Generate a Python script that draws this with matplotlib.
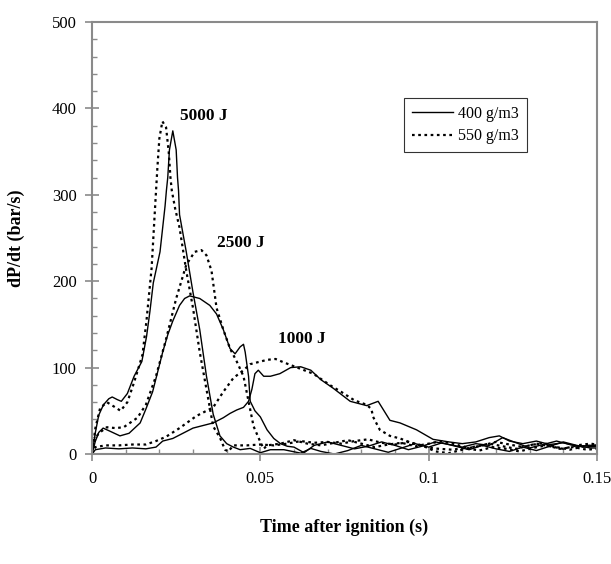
import matplotlib
matplotlib.use('Agg')
from matplotlib import pyplot as plt
from matplotlib.ticker import MultipleLocator

plt.rcParams['font.family'] = ['Liberation Serif', 'DejaVu Serif']

# 5000 J
t_5000_400 = [0, 0.001, 0.002, 0.0034, 0.005, 0.006, 0.0075, 0.0087, 0.0105, 0.0125, 0.0148,
              0.0162, 0.0172, 0.0182, 0.0202, 0.0217, 0.0221, 0.0225, 0.023, 0.024, 0.025, 0.0254,
              0.0257, 0.026, 0.028, 0.030, 0.032, 0.034, 0.036, 0.038, 0.040, 0.042, 0.044, 0.047,
              0.050, 0.053, 0.057, 0.062, 0.065, 0.068, 0.072, 0.076, 0.08, 0.084, 0.088, 0.092,
              0.096, 0.10, 0.104, 0.108, 0.112, 0.116, 0.12, 0.124, 0.128, 0.132, 0.136, 0.14,
              0.144, 0.148, 0.15]
p_5000_400 = [0, 25, 45, 57, 64, 66, 63, 61, 70, 90, 107,
              136, 165, 198, 234, 287, 305, 320, 352, 374, 352, 320,
              305, 277, 234, 187, 144, 90, 46, 21, 12, 8, 5, 6.5,
              1.5, 5, 5, 1, 6.5, 3, 0, 4, 10, 6, 2, 7,
              12, 8, 13, 9, 5, 10, 6, 3, 8, 4, 9, 14,
              10, 7, 7]
t_5000_550 = [0, 0.001, 0.0024, 0.0044, 0.0065, 0.0085, 0.0105, 0.0125, 0.015, 0.0162, 0.0177,
              0.0188, 0.0194, 0.0200, 0.0209, 0.022, 0.0228, 0.0233, 0.0237, 0.0247, 0.026, 0.028,
              0.030, 0.032, 0.034, 0.036, 0.038, 0.0395, 0.0405, 0.042, 0.046, 0.05, 0.054, 0.058,
              0.062, 0.066, 0.07, 0.074, 0.078, 0.082, 0.086, 0.09, 0.094, 0.098, 0.102, 0.106,
              0.11, 0.114, 0.118, 0.122, 0.126, 0.13, 0.134, 0.138, 0.142, 0.146, 0.15]
p_5000_550 = [0, 30, 53, 60, 55, 50, 60, 83, 115, 155, 215,
              290, 330, 365, 385, 378, 349, 320, 305, 284, 262, 212,
              169, 118, 75, 32, 19, 5, 3, 10, 10, 11, 10, 12,
              15, 13, 14, 12, 15, 17, 13, 11, 14, 10, 3, 1,
              5, 9, 12, 9, 6, 10, 13, 8, 5, 9, 10]

# 2500 J
t_2500_400 = [0, 0.001, 0.002, 0.0033, 0.005, 0.0083, 0.011, 0.0143, 0.016, 0.018, 0.0195,
              0.021, 0.0225, 0.024, 0.026, 0.0275, 0.029, 0.032, 0.035, 0.037, 0.039, 0.041,
              0.0425, 0.044, 0.045, 0.0455, 0.0465, 0.047, 0.0484, 0.050, 0.052, 0.054, 0.056,
              0.058, 0.060, 0.063, 0.066, 0.07, 0.074, 0.078, 0.082, 0.086, 0.09, 0.094, 0.098,
              0.102, 0.106, 0.11, 0.114, 0.118, 0.122, 0.126, 0.13, 0.134, 0.138, 0.142, 0.146,
              0.15]
p_2500_400 = [0, 15, 25, 30, 27, 21, 24, 36, 52, 72, 95,
              118, 138, 154, 172, 180, 183, 180, 172, 162, 144, 122,
              116, 124, 127, 118, 90, 61, 50, 43, 28, 18, 12,
              9, 8, 1.5, 10, 14, 10, 6, 9, 14, 10, 5, 9,
              14, 11, 8, 12, 10, 19, 13, 7, 11, 15, 11, 8,
              9]
t_2500_550 = [0, 0.001, 0.002, 0.0044, 0.007, 0.0094, 0.0135, 0.016, 0.019, 0.022, 0.025,
              0.028, 0.0305, 0.0325, 0.034, 0.0355, 0.037, 0.039, 0.041, 0.043, 0.045, 0.0465,
              0.048, 0.050, 0.051, 0.052, 0.056, 0.060, 0.064, 0.068, 0.072, 0.076, 0.08, 0.084,
              0.088, 0.092, 0.096, 0.1, 0.104, 0.108, 0.112, 0.116, 0.12, 0.124, 0.128, 0.132,
              0.136, 0.14, 0.144, 0.148, 0.15]
p_2500_550 = [0, 18, 24, 31, 30, 31, 42, 57, 90, 133, 180,
              219, 234, 236, 230, 212, 169, 144, 122, 107, 90, 61,
              32, 14, 6, 10, 12, 16, 12, 10, 13, 16, 12, 8,
              11, 13, 9, 12, 15, 11, 7, 10, 14, 11, 8, 12,
              9, 6, 10, 12, 11]

# 1000 J
t_1000_400 = [0, 0.001, 0.004, 0.008, 0.012, 0.016, 0.019, 0.021, 0.024, 0.027, 0.030,
              0.033, 0.036, 0.039, 0.041, 0.043, 0.045, 0.0465, 0.0475, 0.0484, 0.0494, 0.051,
              0.053, 0.0558, 0.059, 0.062, 0.065, 0.068, 0.0717, 0.0767, 0.0816, 0.085, 0.0885,
              0.0915, 0.0964, 0.1013, 0.106, 0.11, 0.114, 0.118, 0.121, 0.124, 0.128, 0.132,
              0.136, 0.14, 0.144, 0.148, 0.15]
p_1000_400 = [0, 5, 7, 6, 7, 6, 8, 15, 18, 24, 30,
              33, 36, 42, 47, 51, 54, 61, 75, 93, 97, 90,
              90, 93, 100, 101, 97, 86, 76, 61, 56, 61, 39,
              36, 28, 17, 14, 12, 14, 19, 21, 15, 12, 15,
              11, 13, 9, 10, 10]
t_1000_550 = [0, 0.001, 0.004, 0.008, 0.012, 0.016, 0.019, 0.022, 0.026, 0.031, 0.036,
              0.039, 0.042, 0.045, 0.047, 0.049, 0.052, 0.0545, 0.057, 0.061, 0.0657, 0.071,
              0.074, 0.078, 0.0816, 0.083, 0.0835, 0.0855, 0.0885, 0.0915, 0.0955, 0.1014, 0.107,
              0.111, 0.115, 0.119, 0.123, 0.127, 0.131, 0.135, 0.139, 0.143, 0.147, 0.15]
p_1000_550 = [0, 8, 10, 10, 11, 11, 15, 20, 30, 44, 54,
              72, 88, 97, 104, 106, 109, 110, 106, 100, 93, 79,
              72, 62, 57, 52, 43, 28, 21, 18, 12, 6.5, 5,
              7, 4, 8, 6, 3, 7, 10, 6, 8, 5, 6]

curves_400 = [(t_5000_400, p_5000_400), (t_2500_400, p_2500_400), (t_1000_400, p_1000_400)]
curves_550 = [(t_5000_550, p_5000_550), (t_2500_550, p_2500_550), (t_1000_550, p_1000_550)]

energy_labels = ['5000 J', '2500 J', '1000 J']
label_pos = [(0.0261, 391), (0.0370, 244), (0.0553, 133)]

fig = plt.figure(figsize=(6.11, 5.64), dpi=100)
ax = fig.add_subplot(111)
fig.subplots_adjust(left=0.1506, right=0.977, top=0.961, bottom=0.195)

dots = (0, (1.2, 1.6))
for i, (t, p) in enumerate(curves_400):
    ax.plot(t, p, color='black', lw=1.0, label='400 g/m3' if i == 0 else None)
for i, (t, p) in enumerate(curves_550):
    ax.plot(t, p, color='black', lw=1.6, linestyle=dots, label='550 g/m3' if i == 0 else None)

for txt, (x, y) in zip(energy_labels, label_pos):
    ax.text(x, y, txt, fontsize=12.5, fontweight='bold', ha='left', va='center')

ax.set_xlim(0, 0.15)
ax.set_ylim(0, 500)
ax.xaxis.set_minor_locator(MultipleLocator(0.01))
ax.yaxis.set_major_locator(MultipleLocator(100))
ax.yaxis.set_minor_locator(MultipleLocator(20))
ax.set_xticks([0, 0.05, 0.1, 0.15])
ax.set_xticklabels(['0', '0.05', '0.1', '0.15'])

grey = '#8a8a8a'
for s in ax.spines.values():
    s.set_color(grey)
    s.set_linewidth(1.5)
ax.tick_params(which='major', direction='inout', length=10, width=1.2, color=grey,
               labelsize=12)
ax.tick_params(which='minor', direction='in', length=3.5, width=1.0, color=grey)
ax.tick_params(axis='x', which='major', pad=7)
ax.tick_params(axis='y', which='major', pad=6)

ax.set_xlabel('Time after ignition (s)', fontsize=13, fontweight='bold')
ax.set_ylabel('dP/dt (bar/s)', fontsize=13, fontweight='bold')
ax.xaxis.set_label_coords(0.5, -0.15)
ax.yaxis.set_label_coords(-0.133, 0.5)

leg = ax.legend(loc='upper right', bbox_to_anchor=(0.861, 0.824), fontsize=11.5,
                frameon=True, fancybox=False, edgecolor='black', handlelength=2.6,
                borderpad=0.5, labelspacing=0.4, handletextpad=0.3, borderaxespad=0)
leg.get_frame().set_linewidth(0.8)

fig.savefig('out.png', dpi=100)
